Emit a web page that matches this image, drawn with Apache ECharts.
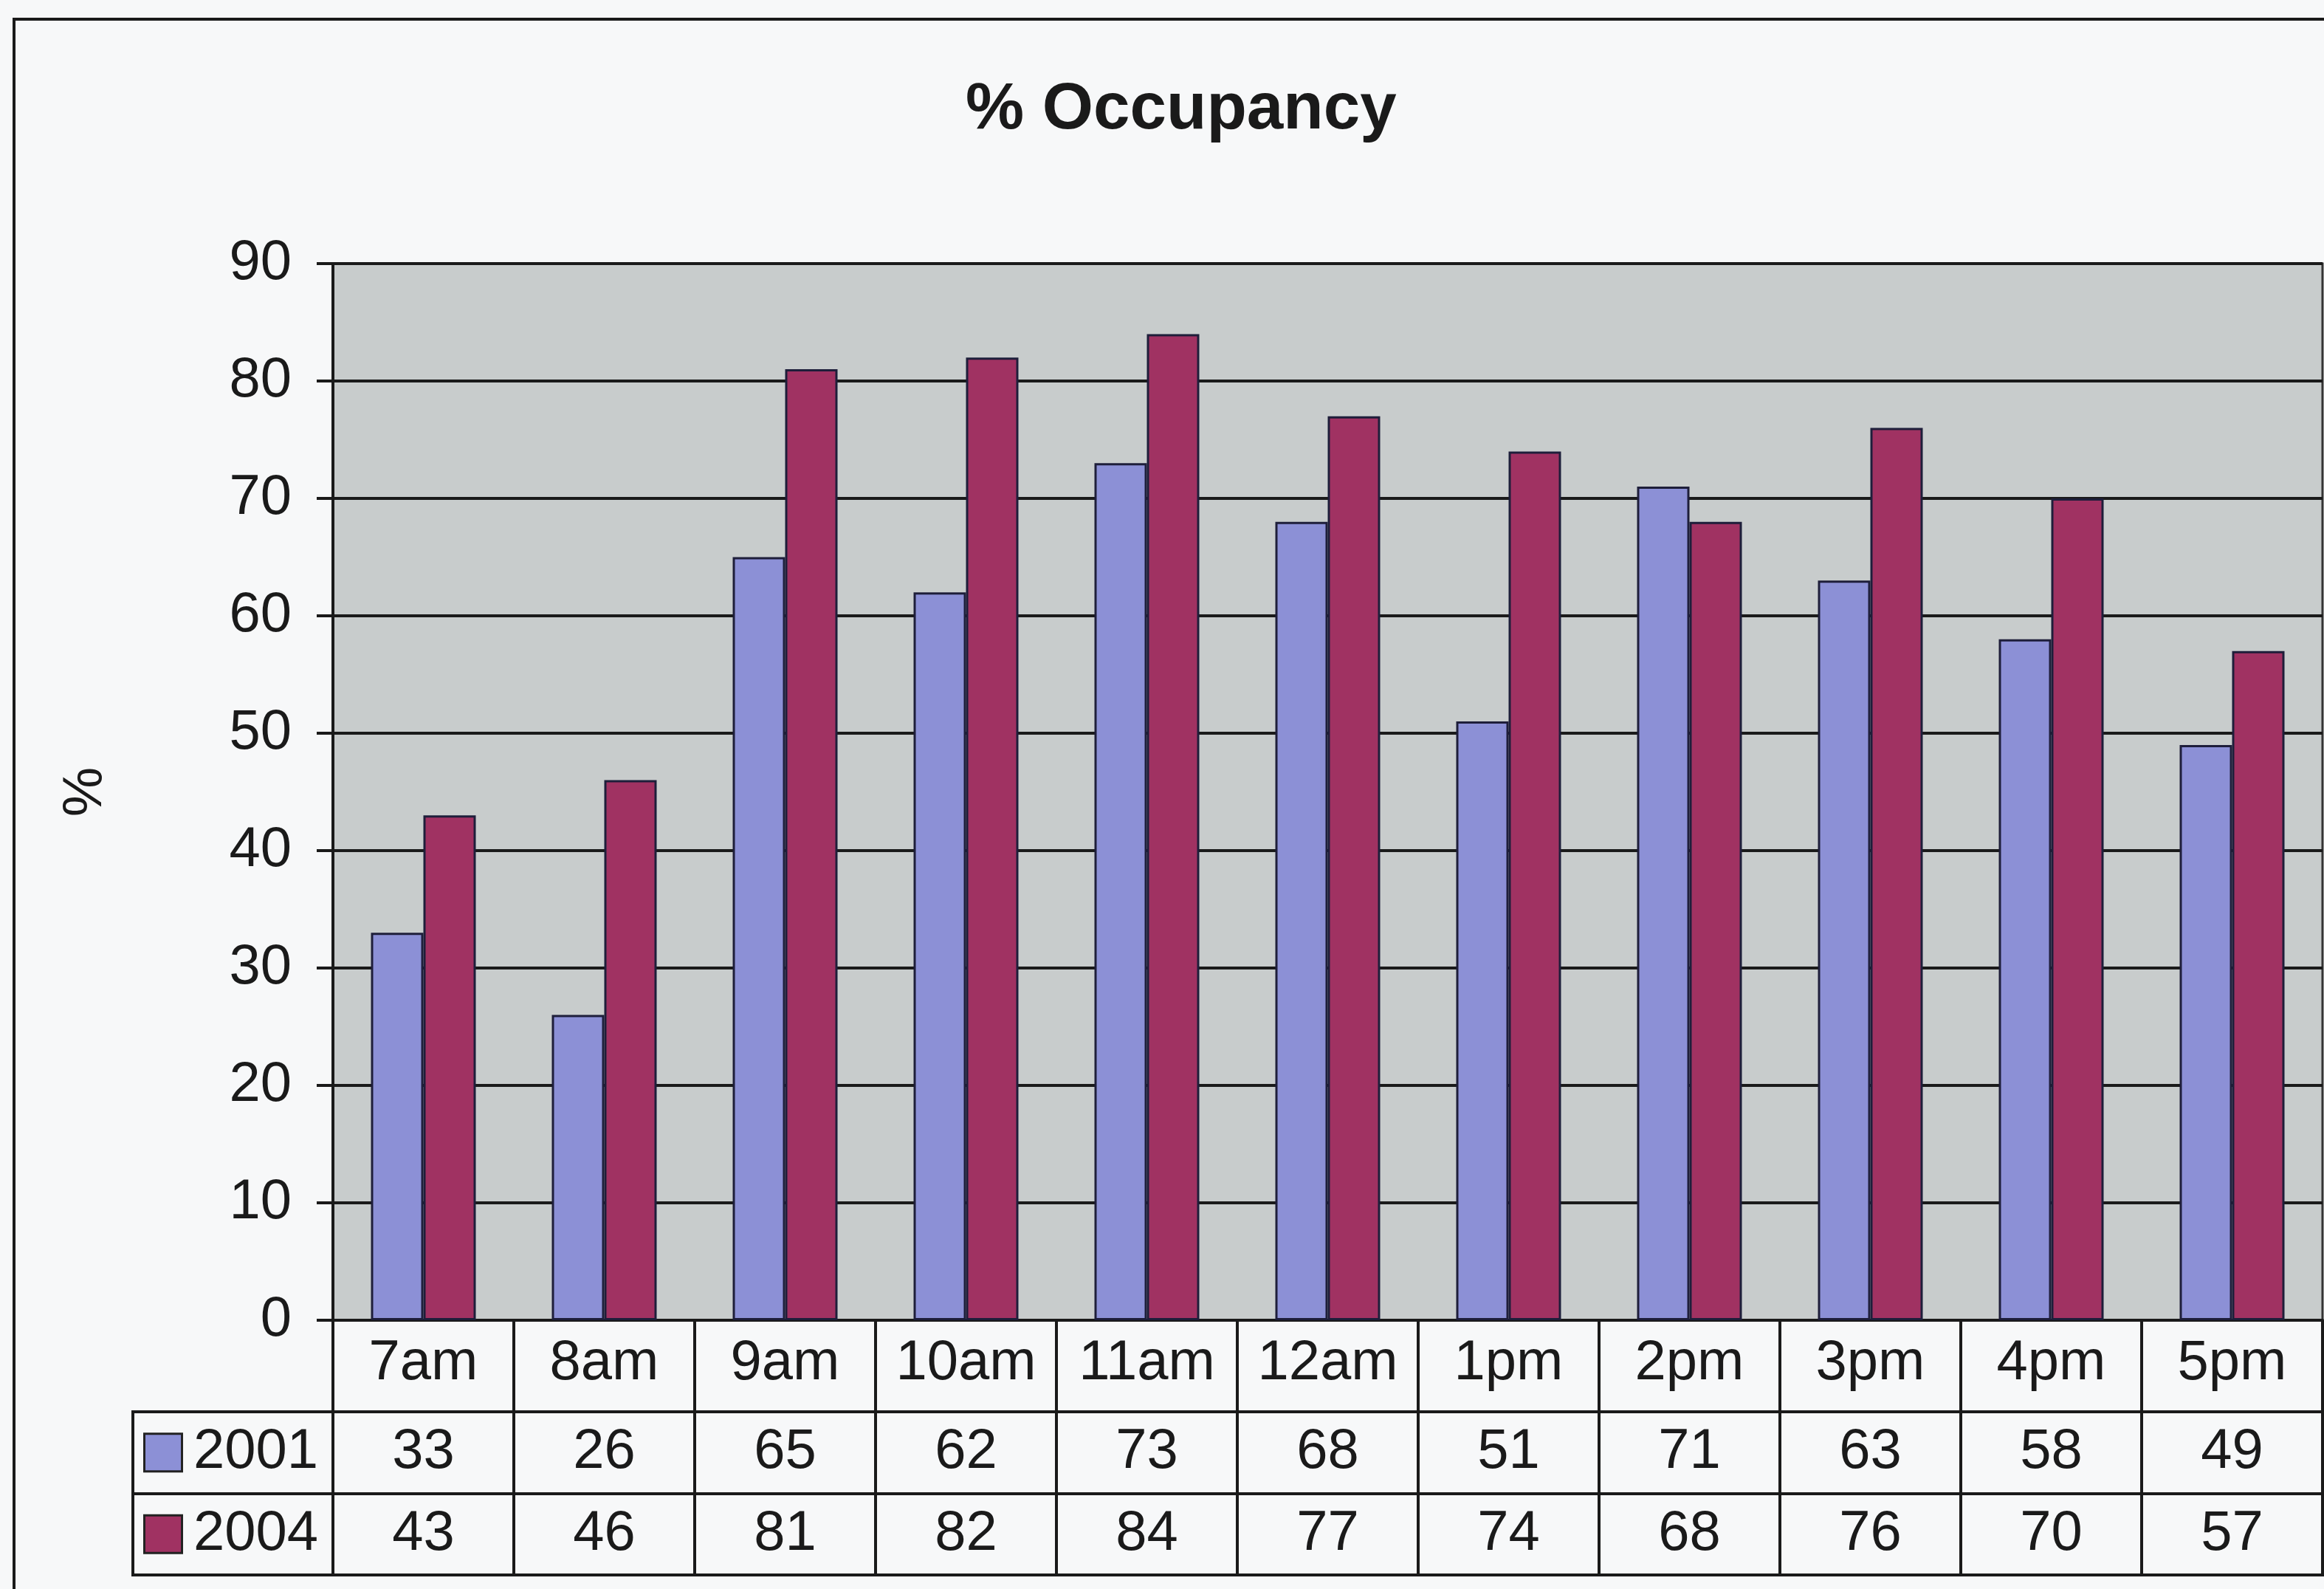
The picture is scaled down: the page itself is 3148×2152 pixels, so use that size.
<!DOCTYPE html>
<html>
<head>
<meta charset="utf-8">
<script src="https://cdn.jsdelivr.net/npm/echarts@6/dist/echarts.min.js"></script>
<style>
html, body { margin: 0; padding: 0; background: #f7f8f9; }
#frame { position: absolute; left: 17px; top: 24px; width: 3300px; height: 2300px;
         border-left: 4px solid #1a1a1a; border-top: 4px solid #1a1a1a; box-sizing: border-box; }
#chart { position: absolute; left: 0; top: 0; width: 3148px; height: 2152px; }
</style>
</head>
<body>
<div id="frame"></div>
<div id="chart"></div>
<script>
// ---- data ----
const categories = ['7am', '8am', '9am', '10am', '11am', '12am', '1pm', '2pm', '3pm', '4pm', '5pm'];
const seriesNames = ['2001', '2004'];
const values2001 = [33, 26, 65, 62, 73, 68, 51, 71, 63, 58, 49];
const values2004 = [43, 46, 81, 82, 84, 77, 74, 68, 76, 70, 57];
const yMin = 0, yMax = 90, yStep = 10;
const yAxisTitle = '%';
const chartTitle = '% Occupancy';

// ---- style ----
const FONT = 'Liberation Sans, Arial, sans-serif';
const INK = '#1a1a1a';
const C2001 = '#8c90d6';
const C2004 = '#a03262';
const FS = 76;
const LW = 4;

const tableCells = [];
values2001.forEach((v, i) => tableCells.push([i, 0, v]));
values2004.forEach((v, i) => tableCells.push([i, 1, v]));

const keyColors = { '2001': C2001, '2004': C2004 };

const chart = echarts.init(document.getElementById('chart'), null, { renderer: 'canvas' });
chart.setOption({
  backgroundColor: 'transparent',
  animation: false,
  title: {
    text: chartTitle,
    left: 1308,
    top: 105,
    padding: 0,
    textStyle: { fontFamily: FONT, fontSize: 89, fontWeight: 'bold', color: INK, lineHeight: 89 }
  },
  grid: [
    { left: 451, top: 357, width: 2695, height: 1431, show: true,
      backgroundColor: '#c8cccc', borderColor: '#333', borderWidth: 3, containLabel: false },
    { left: 451, top: 1912, width: 2695, height: 221, show: true,
      backgroundColor: 'transparent', borderColor: INK, borderWidth: LW },
    { left: 180, top: 1912, width: 271, height: 221, show: true,
      backgroundColor: 'transparent', borderColor: INK, borderWidth: LW }
  ],
  xAxis: [
    { type: 'category', gridIndex: 0, data: categories,
      axisLine: { show: true, lineStyle: { color: INK, width: LW } },
      axisTick: { show: true, length: 124, interval: 0, lineStyle: { color: INK, width: LW } },
      axisLabel: { interval: 0, margin: 21, fontFamily: FONT, fontSize: FS, color: INK },
      splitLine: { show: false } },
    { type: 'category', gridIndex: 1, data: categories,
      axisLine: { show: false }, axisTick: { show: false }, axisLabel: { show: false },
      splitLine: { show: true, interval: 0, lineStyle: { color: INK, width: LW } } },
    { type: 'value', gridIndex: 2, show: false, min: 0, max: 1 }
  ],
  yAxis: [
    { type: 'value', gridIndex: 0, min: yMin, max: yMax, interval: yStep,
      name: yAxisTitle, nameLocation: 'middle', nameGap: 297, nameRotate: 90,
      nameTextStyle: { fontFamily: FONT, fontSize: FS, color: INK },
      axisLine: { show: true, lineStyle: { color: INK, width: LW } },
      axisTick: { show: true, length: 22, lineStyle: { color: INK, width: LW } },
      axisLabel: { margin: 56, fontFamily: FONT, fontSize: FS, color: INK },
      splitLine: { show: true, lineStyle: { color: INK, width: LW } } },
    { type: 'category', gridIndex: 1, data: seriesNames, inverse: true,
      axisLine: { show: false }, axisTick: { show: false }, axisLabel: { show: false },
      splitLine: { show: true, interval: 0, lineStyle: { color: INK, width: LW } } },
    { type: 'category', gridIndex: 2, data: seriesNames, inverse: true,
      axisLine: { show: false }, axisTick: { show: false },
      splitLine: { show: true, interval: 0, lineStyle: { color: INK, width: LW } },
      axisLabel: {
        inside: true, margin: 17, interval: 0, fontFamily: FONT, fontSize: FS, color: INK,
        formatter: v => `{k${v}|}{t|${v}}`,
        rich: {
          k2001: { width: 48, height: 48, backgroundColor: keyColors['2001'], borderColor: '#222', borderWidth: 3 },
          k2004: { width: 48, height: 48, backgroundColor: keyColors['2004'], borderColor: '#222', borderWidth: 3 },
          t: { fontFamily: FONT, fontSize: FS, color: INK, padding: [0, 0, 0, 17] }
        }
      } }
  ],
  series: [
    { name: seriesNames[0], type: 'bar', xAxisIndex: 0, yAxisIndex: 0, data: values2001,
      barWidth: 71, barGap: '0%',
      itemStyle: { color: C2001, borderColor: '#1e1e3a', borderWidth: 3 } },
    { name: seriesNames[1], type: 'bar', xAxisIndex: 0, yAxisIndex: 0, data: values2004,
      barWidth: 71, barGap: '0%',
      itemStyle: { color: C2004, borderColor: '#1e1e3a', borderWidth: 3 } },
    { type: 'scatter', xAxisIndex: 1, yAxisIndex: 1, data: tableCells,
      symbol: 'rect', symbolSize: 1, itemStyle: { color: 'rgba(0,0,0,0)', opacity: 1 },
      label: { show: true, position: 'inside', formatter: p => String(p.value[2]),
               fontFamily: FONT, fontSize: FS, color: INK, opacity: 1, textBorderWidth: 0 } }
  ]
});
</script>
</body>
</html>
